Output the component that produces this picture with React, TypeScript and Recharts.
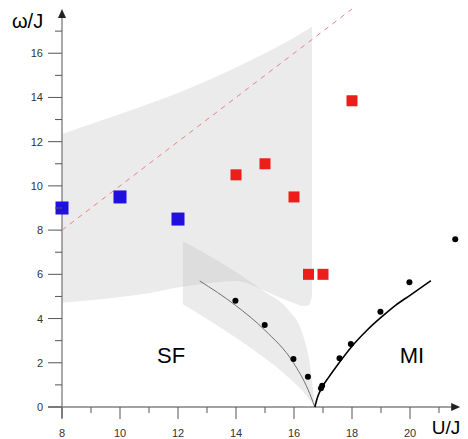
import {
  ComposedChart,
  Area,
  Line,
  Scatter,
  XAxis,
  YAxis,
  ReferenceLine,
  ReferenceDot,
} from 'recharts';

// shaded region (big) – U/J and its lower/upper ω/J edges
const bigU = [8, 9, 10, 11, 12, 13, 14, 15, 15.5, 16, 16.3, 16.5, 16.62];
const bigLow = [4.72, 4.83, 4.98, 5.15, 5.4, 5.6, 5.7, 5.25, 4.95, 4.7, 4.57, 4.6, 5.0];
const bigHigh = [12.35, 12.8, 13.25, 13.72, 14.2, 14.75, 15.35, 16.0, 16.35, 16.7, 16.95, 17.1, 17.2];

// shaded band around the SF boundary
const bandU = [12.17, 13, 14, 15, 15.8, 16.3, 16.55, 16.72];
const bandLow = [4.65, 3.98, 3.13, 2.2, 1.35, 0.72, 0.3, 0];
const bandHigh = [7.5, 6.9, 6.1, 5.2, 4.4, 3.3, 1.9, 0];

// SF boundary (gray line)
const sfU = [12.75, 13.98, 14.99, 15.98, 16.48, 16.72];
const sfW = [5.7, 4.6, 3.48, 2.0, 0.8, 0];

// MI boundary (black line)
const miU = [16.72, 16.8, 16.95, 17.2, 17.5, 18.0, 18.5, 19.0, 19.5, 20.0, 20.72];
const miW = [0, 0.4, 0.85, 1.35, 1.9, 2.75, 3.45, 4.05, 4.6, 5.05, 5.71];

// dashed red line ω = U
const diagU = [8, 18];
const diagW = [8, 18];

const blueU = [8, 10, 12];
const blueW = [9.0, 9.5, 8.5];

const redU = [14, 15, 16, 16.5, 17, 18];
const redW = [10.5, 11.0, 9.5, 6.0, 6.0, 13.85];

const dotU = [13.98, 14.99, 15.98, 16.48, 16.93, 16.97, 17.57, 17.96, 18.98, 19.98, 21.56];
const dotW = [4.81, 3.71, 2.17, 1.37, 0.85, 0.96, 2.2, 2.85, 4.31, 5.64, 7.59];

const xTicks = [8, 9, 10, 11, 12, 13, 14, 15, 16, 17, 18, 19, 20, 21];
const yTicks = [0, 1, 2, 3, 4, 5, 6, 7, 8, 9, 10, 11, 12, 13, 14, 15, 16, 17];

const rangeData = (us: number[], lo: number[], hi: number[]) =>
  us.map((u, i) => ({ u, range: [lo[i], hi[i]] }));
const pts = (us: number[], ws: number[]) => us.map((u, i) => ({ u, w: ws[i] }));

const FONT = '"Liberation Sans", Arial, sans-serif';

const XTick = (props: any) => {
  const { x, y, payload } = props;
  const major = payload.value % 2 === 0;
  return (
    <g>
      <line x1={x} x2={x} y1={y} y2={y + (major ? 12 : 6)} stroke="#555" />
      {major && payload.value <= 20 && (
        <text x={x} y={y + 30} textAnchor="middle" fontSize={11} fill="#333" fontFamily={FONT}>
          {payload.value}
        </text>
      )}
    </g>
  );
};

const YTick = (props: any) => {
  const { x, y, payload } = props;
  const major = payload.value % 2 === 0;
  return (
    <g>
      <line x1={x - (major ? 14 : 7)} x2={x} y1={y} y2={y} stroke="#555" />
      {major && (
        <text x={x - 19} y={y + 4} textAnchor="end" fontSize={11} fill="#333" fontFamily={FONT}>
          {payload.value}
        </text>
      )}
    </g>
  );
};

const square = (size: number, color: string) => (props: any) => {
  const { cx, cy } = props;
  return <rect x={cx - size / 2} y={cy - size / 2} width={size} height={size} fill={color} />;
};

const dot = (props: any) => <circle cx={props.cx} cy={props.cy} r={3} fill="#000" />;

const textShape = (label: string, dx: number, dy: number, size: number, anchor: string) => (props: any) => (
  <text x={props.cx + dx} y={props.cy + dy} fontSize={size} fontFamily={FONT} fill="#000" textAnchor={anchor}>
    {label}
  </text>
);

export default function App() {
  return (
    <div style={{ position: 'absolute', left: 0, top: 0, background: '#fff' }}>
      <ComposedChart width={468} height={439} margin={{ top: 9, right: 0, bottom: 0, left: 0 }}>
        <XAxis
          type="number"
          dataKey="u"
          domain={[8, 22]}
          ticks={xTicks}
          interval={0}
          height={32}
          axisLine={false}
          tickLine={false}
          tickSize={0}
          tickMargin={0}
          tick={XTick}
        />
        <YAxis
          type="number"
          domain={[0, 18]}
          ticks={yTicks}
          interval={0}
          width={62}
          axisLine={false}
          tickLine={false}
          tickSize={0}
          tickMargin={0}
          tick={YTick}
        />
        <Area
          data={rangeData(bigU, bigLow, bigHigh)}
          dataKey="range"
          type="monotone"
          stroke="none"
          fill="#bdbdbd"
          fillOpacity={0.3}
          isAnimationActive={false}
        />
        <Area
          data={rangeData(bandU, bandLow, bandHigh)}
          dataKey="range"
          type="monotone"
          stroke="none"
          fill="#bdbdbd"
          fillOpacity={0.3}
          isAnimationActive={false}
        />
        <ReferenceLine
          segment={[{ x: 7.52, y: 0 }, { x: 21.6, y: 0 }]}
          stroke="#444"
          ifOverflow="visible"
        />
        <ReferenceLine
          segment={[{ x: 8, y: -0.5 }, { x: 8, y: 17.7 }]}
          stroke="#8c8c8c"
          strokeWidth={1.5}
          ifOverflow="visible"
        />
        <ReferenceDot
          x={21.73}
          y={0}
          ifOverflow="visible"
          shape={(p: any) => (
            <polygon points={`${p.cx},${p.cy} ${p.cx - 9},${p.cy - 4} ${p.cx - 9},${p.cy + 4}`} fill="#222" />
          )}
        />
        <ReferenceDot
          x={8}
          y={18}
          ifOverflow="visible"
          shape={(p: any) => (
            <polygon points={`${p.cx},${p.cy} ${p.cx - 4},${p.cy + 9} ${p.cx + 4},${p.cy + 9}`} fill="#222" />
          )}
        />
        <Line
          data={pts(diagU, diagW)}
          dataKey="w"
          stroke="#f08080"
          strokeWidth={1}
          strokeDasharray="5 5"
          dot={false}
          isAnimationActive={false}
        />
        <Line
          data={pts(sfU, sfW)}
          dataKey="w"
          type="monotone"
          stroke="#707070"
          strokeWidth={1}
          dot={false}
          isAnimationActive={false}
        />
        <Line
          data={pts(miU, miW)}
          dataKey="w"
          type="monotone"
          stroke="#000"
          strokeWidth={1.6}
          dot={false}
          isAnimationActive={false}
        />
        <Scatter data={pts(blueU, blueW)} dataKey="w" shape={square(13, '#2010e0')} isAnimationActive={false} />
        <Scatter data={pts(redU, redW)} dataKey="w" shape={square(11, '#ec1e1a')} isAnimationActive={false} />
        <Scatter data={pts(dotU, dotW)} dataKey="w" shape={dot} isAnimationActive={false} />
        <ReferenceDot x={11.76} y={2.0} ifOverflow="visible" shape={textShape('SF', 0, 0, 22, 'middle')} />
        <ReferenceDot x={20.07} y={2.0} ifOverflow="visible" shape={textShape('MI', 0, 0, 22, 'middle')} />
        <ReferenceDot x={8} y={18} ifOverflow="visible" shape={textShape('ω/J', -50, 19, 20, 'start')} />
        <ReferenceDot x={21.73} y={0} ifOverflow="visible" shape={textShape('U/J', 0, 27, 19, 'end')} />
      </ComposedChart>
    </div>
  );
}
